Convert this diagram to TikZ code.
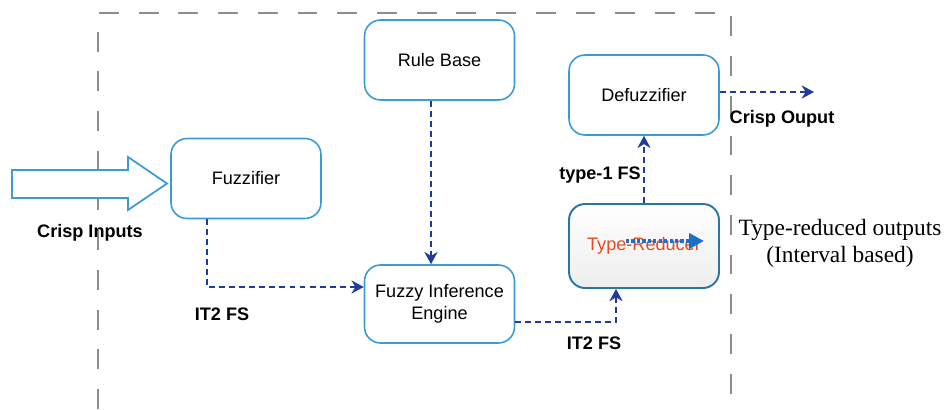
\documentclass[tikz,border=0pt]{standalone}
\usepackage{fontspec}
\setmainfont{Liberation Sans}
\newfontfamily\timesfont{Liberation Serif}
\usetikzlibrary{arrows.meta}

\definecolor{boxblue}{HTML}{3A9BDC}
\definecolor{trblue}{HTML}{2A75A3}
\definecolor{flowblue}{HTML}{1F3C9C}
\definecolor{dotblue}{HTML}{1C6FCB}
\definecolor{trred}{HTML}{E8491E}
\definecolor{framegray}{HTML}{8C8C8C}

\begin{document}
\begin{tikzpicture}[x=0.02cm, y=-0.02cm,
  box/.style={draw=boxblue, line width=0.9pt, rounded corners=0.32cm, fill=white,
    minimum width=3.0cm, minimum height=1.6cm, align=center,
    font=\fontsize{10.3}{12.5}\selectfont},
  flow/.style={draw=flowblue, line width=1pt, dash pattern=on 3.4pt off 2.3pt,
    -{Stealth[length=7pt, width=7.5pt]}},
  lbl/.style={font=\fontsize{10.3}{12}\selectfont\bfseries, inner sep=0pt}]

  \useasboundingbox (0,0) rectangle (949,409);

  % gestrichelter Rahmen
  \draw[framegray, line width=1.1pt, dash pattern=on 11.3pt off 11.3pt]
    (98,409) -- (98,13) -- (731,13) -- (731,409);

  % Bloecke
  \node[box] (rb) at (439.5,60) {Rule Base};
  \node[box] (def) at (644,95) {Defuzzifier};
  \node[box] (fuzz) at (246,178.5) {Fuzzifier};
  \node[box, minimum height=1.56cm] (fie) at (439.5,304) {Fuzzy Inference\\Engine};
  \node[box, draw=trblue, line width=1.1pt, top color=white, bottom color=black!7,
    minimum height=1.68cm, text=trred] (tr) at (644,246) {Type-Reducer};

  % Eingangspfeil
  \draw[boxblue, line width=1pt, fill=white]
    (12,170) -- (128,170) -- (128,157) -- (167,183.5) -- (128,210) -- (128,198)
    -- (12,198) -- cycle;

  % Pfeil im Type-Reducer
  \coordinate (trin) at ([shift={(-18,-5)}]tr.center);
  \coordinate (trout) at ([shift={(60,-5)}]tr.center);
  \draw[dotblue, line width=2.2pt, dash pattern=on 1.8pt off 1.3pt,
    -{Triangle[length=8.5pt, width=8.5pt]}] (trin) -- (trout);

  % Verbindungen
  \draw[flow] ([shift={(-39,0)}]fuzz.south) |- ([shift={(0,-17)}]fie.west);
  \draw[flow] ([shift={(-8.5,0)}]rb.south) -- ([shift={(-8.5,0)}]fie.north);
  \draw[flow] ([shift={(0,18)}]fie.east) -| ([shift={(-28,0)}]tr.south);
  \draw[flow] (tr.north) -- (def.south);
  \coordinate (out) at (814,92);
  \draw[flow] ([shift={(0,-3)}]def.east) -- (out);

  % Beschriftungen
  \node[lbl] (inlbl) at (90,233) {Crisp Inputs};
  \node[lbl] (fs1) at (222,314) {IT2 FS};
  \node[lbl] (fs2) at (594,343) {IT2 FS};
  \node[lbl] (t1fs) at (600,175) {type-1 FS};
  \node[lbl] (outlbl) at (782,119) {Crisp Ouput};
  \node[align=center, inner sep=0pt, font=\timesfont\fontsize{13.3}{15.3}\selectfont]
    (trlbl) at (840,243) {Type-reduced outputs\\(Interval based)};

\end{tikzpicture}
\end{document}
